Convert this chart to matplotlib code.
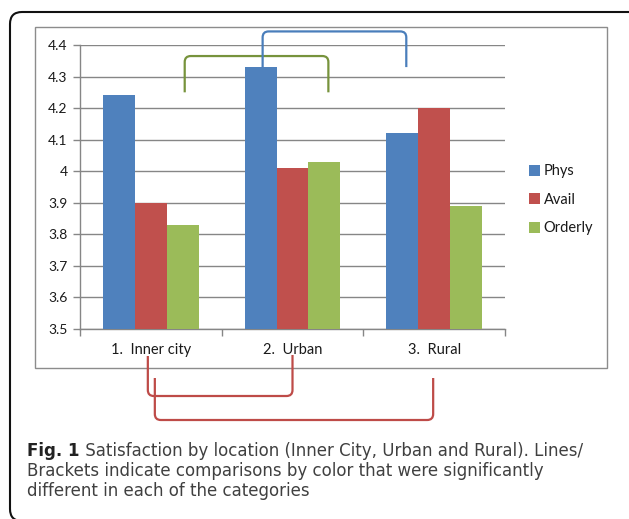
import numpy as np
import matplotlib
matplotlib.use("Agg")
import matplotlib.pyplot as plt
from matplotlib.path import Path
from matplotlib.patches import PathPatch, Rectangle, FancyBboxPatch

locations = ["1.  Inner city", "2.  Urban", "3.  Rural"]
series = ["Phys", "Avail", "Orderly"]
phys = [4.24, 4.33, 4.12]
avail = [3.90, 4.01, 4.20]
orderly = [3.83, 4.03, 3.89]
yticks = [3.5, 3.6, 3.7, 3.8, 3.9, 4.0, 4.1, 4.2, 4.3, 4.4]

# significant pairs: (series index, location a, location b)
top_pairs = [(2, 0, 1), (0, 1, 2)]
bottom_pairs = [(1, 0, 1), (1, 0, 2)]

caption_head = "Fig. 1"
caption_lines = ["Satisfaction by location (Inner City, Urban and Rural). Lines/",
                 "Brackets indicate comparisons by color that were significantly",
                 "different in each of the categories"]

colors = ["#4F81BD", "#C0504D", "#9BBB59"]
bracket_colors = {0: "#4A7EBB", 1: "#BE4B48", 2: "#77933C"}
grid_c = "#868686"

W, H = 629, 519
fig = plt.figure(figsize=(W / 100, H / 100), dpi=100)
plt.rcParams["font.family"] = ["Lato", "DejaVu Sans"]


def fx(x):
    return x / W


def fy(y):
    return 1 - y / H


# outer rounded frame and chart border
fig.add_artist(FancyBboxPatch((10, H - 521), 640, 509, boxstyle="round,pad=0,rounding_size=12",
                              transform=None, fill=False, ec="#111111", lw=1.5))
fig.add_artist(Rectangle((35, H - 368), 572, 341, transform=None, fill=False, ec="#8c8c8c", lw=1.0))

ax = fig.add_axes([fx(80), fy(329), fx(505) - fx(80), fy(45) - fy(329)])
ax.set_xlim(0, 3)
ax.set_ylim(3.5, 4.4)

w = 0.225
x = np.arange(len(locations)) + 0.5
values = [phys, avail, orderly]
for i, (name, vals) in enumerate(zip(series, values)):
    ax.bar(x + (i - 1) * w, vals, width=w, color=colors[i], label=name, zorder=3)

ax.set_yticks(yticks)
ax.set_yticklabels([("%g" % v) for v in yticks], fontsize=10, color="#1a1a1a")
ax.set_xticks([0, 1, 2, 3])
ax.set_xticklabels([])
ax.set_xticks(x, minor=True)
ax.set_xticklabels(locations, minor=True, fontsize=10.5, color="#1a1a1a")
ax.tick_params(axis="x", which="minor", length=0, pad=10)
ax.tick_params(axis="x", which="major", length=5, color=grid_c, width=1)
ax.tick_params(axis="y", length=5, color=grid_c, width=1, pad=4)
ax.yaxis.grid(True, color=grid_c, lw=1)
ax.set_axisbelow(True)
for s in ["top", "right"]:
    ax.spines[s].set_visible(False)
for s in ["left", "bottom"]:
    ax.spines[s].set_color(grid_c)
    ax.spines[s].set_linewidth(1)

leg = fig.legend(loc="upper left", bbox_to_anchor=(fx(522), fy(157)), frameon=False,
                 fontsize=10.5, handlelength=0.75, handleheight=0.75, handletextpad=0.25,
                 labelspacing=1.0, borderpad=0)
for t in leg.get_texts():
    t.set_color("#1a1a1a")


def bracket(xa, ya, xb, yb, ylevel, color, r=6):
    # path in display pixels, corners rounded
    s = 1 if ylevel > ya else -1
    verts = [(xa, ya), (xa, ylevel - s * r), (xa, ylevel), (xa + r, ylevel),
             (xb - r, ylevel), (xb, ylevel), (xb, ylevel - s * r), (xb, yb)]
    codes = [Path.MOVETO, Path.LINETO, Path.CURVE3, Path.CURVE3,
             Path.LINETO, Path.CURVE3, Path.CURVE3, Path.LINETO]
    fig.add_artist(PathPatch(Path(verts, codes), transform=None, fill=False,
                             ec=color, lw=1.6, capstyle="butt", joinstyle="round"))


def to_px(xd, yd):
    return ax.transData.transform((xd, yd))


# brackets above the bars
top_spec = [(4.25, 4.25, 4.365), (4.33, 4.33, 4.443)]
for (si, a, b), (ya, yb, ylev) in zip(top_pairs, top_spec):
    xa, pa = to_px(x[a] + (si - 1) * w, ya)
    xb, pb = to_px(x[b] + (si - 1) * w, yb)
    _, pl = to_px(0, ylev)
    bracket(xa + 2, pa, xb + 4, pb, pl, bracket_colors[si])

# brackets under the category labels (pixel rows from top)
bottom_spec = [(356, 355, 396, -3, 0), (378, 378, 420, 4, -1)]
for (si, a, b), (ya, yb, ylev, da, db) in zip(bottom_pairs, bottom_spec):
    xa, _ = to_px(x[a], 0)
    xb, _ = to_px(x[b], 0)
    bracket(xa + da, H - ya, xb + db, H - yb, H - ylev, bracket_colors[si])

# caption, first line fitted to the frame width
cap_font = ["DejaVu Sans"]
cap_x, cap_right = 27, 585
baselines = [456, 476, 496]


def caption_width(size):
    a = fig.text(0, 0, caption_head, fontsize=size, fontweight="bold", family=cap_font)
    b = fig.text(0, 0, " " + caption_lines[0], fontsize=size, family=cap_font)
    fig.canvas.draw()
    wd = a.get_window_extent().width + b.get_window_extent().width
    a.remove()
    b.remove()
    return wd


size = 11.0
size *= (cap_right - cap_x) / caption_width(size)

head = fig.text(fx(cap_x), fy(baselines[0]), caption_head, fontsize=size, fontweight="bold",
                family=cap_font, color="#222222", va="baseline")
fig.canvas.draw()
hb = head.get_window_extent()
fig.text(hb.x1 / W, fy(baselines[0]), " " + caption_lines[0], fontsize=size, family=cap_font,
         color="#404040", va="baseline")
for line, yb in zip(caption_lines[1:], baselines[1:]):
    fig.text(fx(cap_x), fy(yb), line, fontsize=size, family=cap_font, color="#404040",
             va="baseline")

fig.savefig("out.png", dpi=100)
